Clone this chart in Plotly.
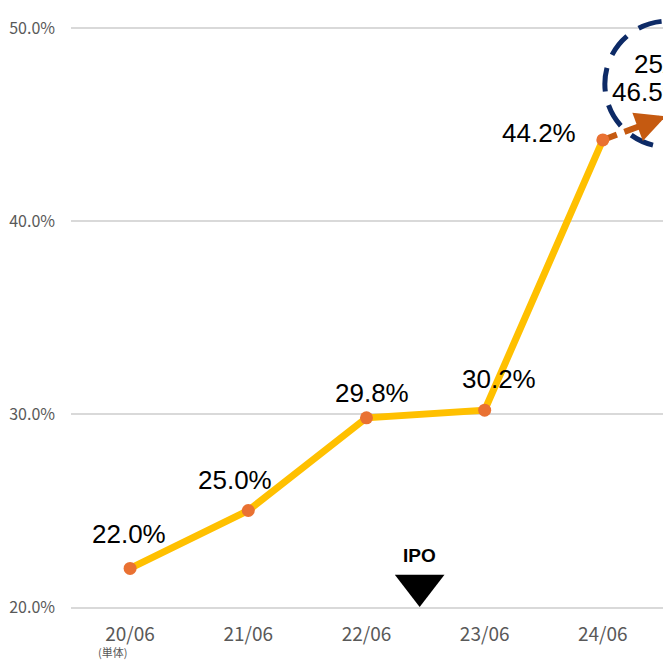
"""営業利益率の推移チャート。"""

import math

import plotly.graph_objects as go

CATEGORIES = ["20/06", "21/06", "22/06", "23/06", "24/06"]
CATEGORY_NOTES = ["(単体)", "", "", "", ""]
MARGIN_RATE = [22.0, 25.0, 29.8, 30.2, 44.2]
FORECAST_NAME = "25/06予"
FORECAST_RATE = 46.5
IPO_POSITION = 2.45  # 22/06 と 23/06 の間
Y_TICKS = [20, 30, 40, 50]

LINE_COLOR = "#FFC000"
DOT_COLOR = "#E97132"
FORECAST_COLOR = "#C55A11"
CIRCLE_COLOR = "#0D2A66"
GRID_COLOR = "#D9D9D9"
TICK_COLOR = "#595959"
LABEL_FONT = "Liberation Sans, Arial, sans-serif"
TICK_FONT = "Noto Sans CJK JP, sans-serif"

# ラベルの位置調整 (px)
LABEL_SHIFTS = [(-1.5, 34), (-13, 31), (6, 25), (14, 31), (-64, 7)]

W, H = 663, 660
MARGIN = dict(l=71, r=0, t=0, b=53)
X_RANGE = [-0.5, 4.509]
PX_PER_CAT = (W - MARGIN["l"] - MARGIN["r"]) / (X_RANGE[1] - X_RANGE[0])
PX_PER_PCT = 19.3
Y_RANGE = [20, 20 + (H - MARGIN["t"] - MARGIN["b"]) / PX_PER_PCT]

ARROW_FRAC = 0.5  # 予想値へ向かう矢印の長さ (軸の範囲内に収める)
IPO_SIZE = 43

xs = list(range(len(CATEGORIES)))
fx = len(CATEGORIES)  # 予想値の位置
last_x, last_y = xs[-1], MARGIN_RATE[-1]
tip_x = last_x + ARROW_FRAC * (fx - last_x)
tip_y = last_y + ARROW_FRAC * (FORECAST_RATE - last_y)

fig = go.Figure()

# 予想への破線
fig.add_trace(go.Scatter(
    x=[last_x, tip_x], y=[last_y, tip_y], mode="lines",
    line=dict(color=FORECAST_COLOR, width=6, dash="15px,8px"),
    hoverinfo="skip", showlegend=False, cliponaxis=False,
))

fig.add_trace(go.Scatter(
    x=xs, y=MARGIN_RATE, mode="lines+markers",
    line=dict(color=LINE_COLOR, width=7),
    marker=dict(color=DOT_COLOR, size=13),
    showlegend=False, cliponaxis=False,
))

# 矢じり (先端は画面の右端で少し切れる)
dx_px = (tip_x - last_x) * PX_PER_CAT
dy_px = (tip_y - last_y) * PX_PER_PCT
norm = math.hypot(dx_px, dy_px)
ux, uy = dx_px / norm, dy_px / norm
fig.add_annotation(
    x=tip_x, y=tip_y, text="", showarrow=True,
    ax=-ux * 12, ay=uy * 12, xshift=ux * 4, yshift=uy * 4,
    arrowhead=2, arrowsize=1, arrowwidth=6, arrowcolor=FORECAST_COLOR,
)

# IPO マーカー
fig.add_trace(go.Scatter(
    x=[IPO_POSITION], y=[Y_RANGE[0] + (IPO_SIZE / 2) / PX_PER_PCT],
    mode="markers",
    marker=dict(symbol="triangle-down", size=IPO_SIZE, color="black"),
    showlegend=False, cliponaxis=False, hoverinfo="skip",
))
fig.add_annotation(
    x=IPO_POSITION, y=Y_RANGE[0], text="<b>IPO</b>", showarrow=False,
    yshift=52, font=dict(family=LABEL_FONT, size=19, color="black"),
)

for x, y, (dx, dy) in zip(xs, MARGIN_RATE, LABEL_SHIFTS):
    fig.add_annotation(
        x=x, y=y, text=f"{y:.1f}%", showarrow=False,
        xshift=dx, yshift=dy,
        font=dict(family=LABEL_FONT, size=26, color="black"),
    )

for x, note in zip(xs, CATEGORY_NOTES):
    if note:
        fig.add_annotation(
            x=x, y=Y_RANGE[0], text=note, showarrow=False,
            xshift=-18, yshift=-45,
            font=dict(family=TICK_FONT, size=11, color=TICK_COLOR),
        )

# 予想値ラベル (24/06 の点から位置を合わせる) と破線の円
fig.add_annotation(
    x=last_x, y=last_y, text=FORECAST_NAME, showarrow=False,
    xanchor="left", xshift=29, yshift=76,
    font=dict(family=LABEL_FONT, size=26, color="black"),
)
fig.add_annotation(
    x=last_x, y=last_y, text=f"{FORECAST_RATE:.1f}%", showarrow=False,
    xanchor="left", xshift=7, yshift=48,
    font=dict(family=LABEL_FONT, size=26, color="black"),
)
fig.add_shape(
    type="circle", xref="x", yref="y",
    x0=4.017, x1=5.085, y0=43.84, y1=50.36,
    line=dict(color=CIRCLE_COLOR, width=5, dash="24px,14px"),
)

fig.update_layout(
    width=W, height=H, margin=MARGIN,
    plot_bgcolor="white", paper_bgcolor="white",
    xaxis=dict(
        range=X_RANGE, tickvals=xs, ticktext=CATEGORIES,
        showgrid=False, zeroline=False,
        showline=True, linecolor=GRID_COLOR, linewidth=1.5,
        ticks="", ticklabelstandoff=9,
        tickfont=dict(family=TICK_FONT, size=19, color=TICK_COLOR),
    ),
    yaxis=dict(
        range=Y_RANGE, tickvals=Y_TICKS,
        ticktext=[f"{v:.1f}%" for v in Y_TICKS],
        showgrid=True, gridcolor=GRID_COLOR, gridwidth=1.5,
        zeroline=False, showline=False, ticks="", ticklabelstandoff=15,
        tickfont=dict(family=TICK_FONT, size=16, color=TICK_COLOR),
    ),
)

# ページ既定の余白をなくしてウィンドウにぴったり合わせる
fig.write_html(
    "out.html",
    config={"displayModeBar": False},
    post_script="document.body.style.margin='0';document.body.style.overflow='hidden';",
)
